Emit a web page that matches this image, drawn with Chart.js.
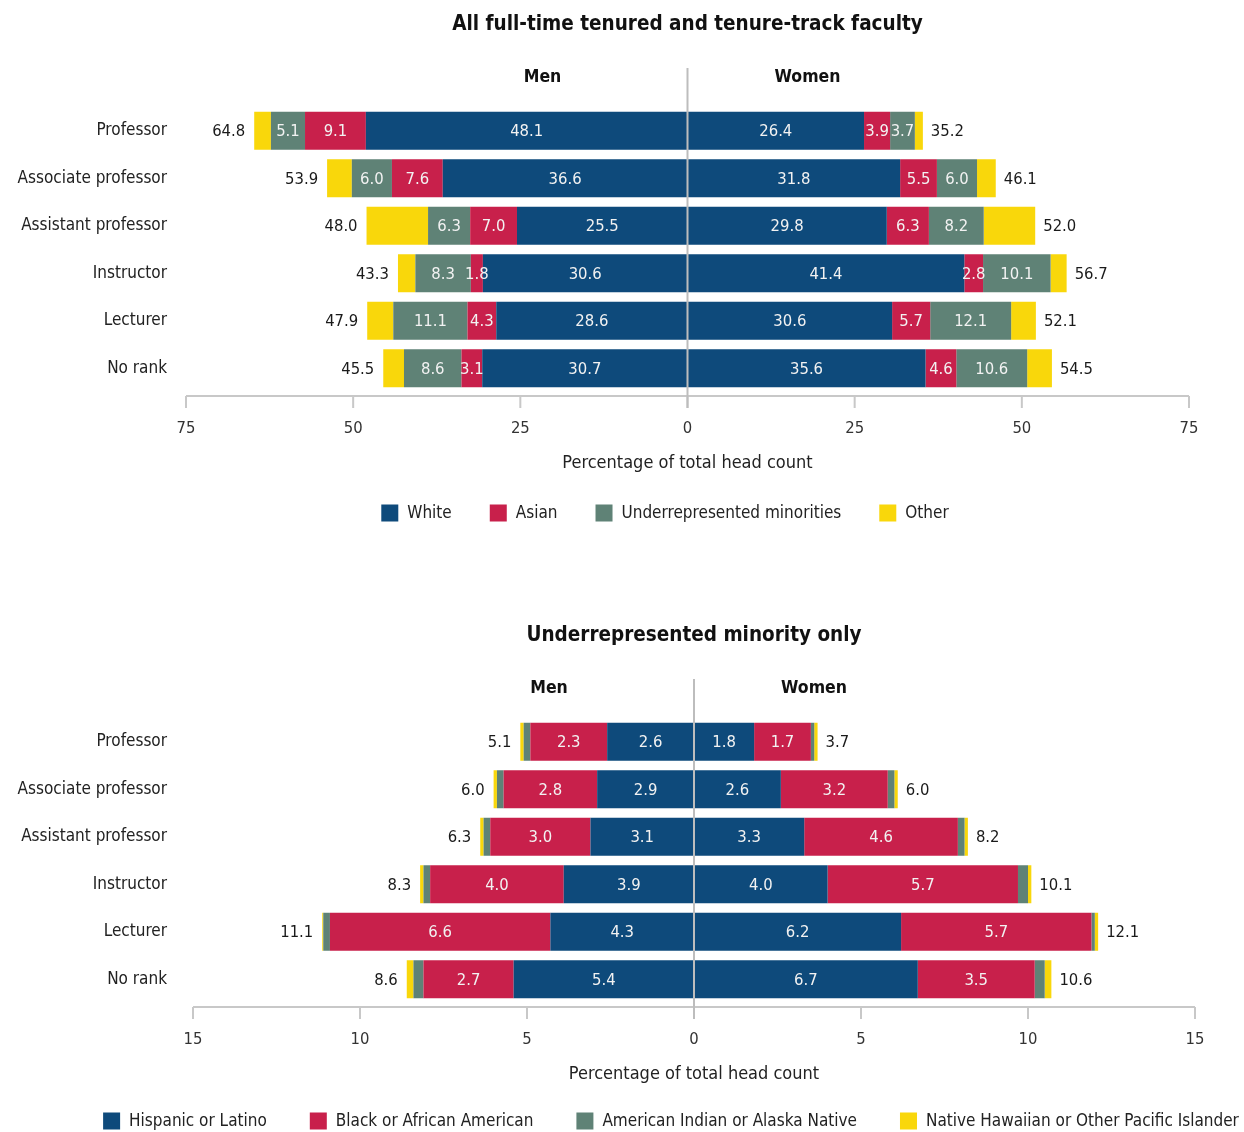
<!DOCTYPE html>
<html>
<head>
<meta charset="utf-8">
<script src="https://cdn.jsdelivr.net/npm/chart.js@4.4.1/dist/chart.umd.min.js"></script>
<style>
  body { margin: 0; background: #fff; }
  .wrap { position: absolute; left: 0; width: 1244px; }
  #wrapTop { top: 0; height: 560px; }
  #wrapBottom { top: 611px; height: 521px; }
</style>
</head>
<body>
<div class="wrap" id="wrapTop"><canvas id="facultyChart"></canvas></div>
<div class="wrap" id="wrapBottom"><canvas id="urmChart"></canvas></div>
<script>
const FONT = '"Liberation Sans Narrow", "DejaVu Sans Condensed", "Roboto Condensed", sans-serif';

const ranks = ["Professor", "Associate professor", "Assistant professor", "Instructor", "Lecturer", "No rank"];

// all full-time tenured / tenure-track faculty (% of head count)
const menWhite = [48.1, 36.6, 25.5, 30.6, 28.6, 30.7];
const menAsian = [9.1, 7.6, 7.0, 1.8, 4.3, 3.1];
const menURM = [5.1, 6.0, 6.3, 8.3, 11.1, 8.6];
const menOther = [2.5, 3.7, 9.2, 2.6, 3.9, 3.1];
const menTotal = [64.8, 53.9, 48.0, 43.3, 47.9, 45.5];

const womenWhite = [26.4, 31.8, 29.8, 41.4, 30.6, 35.6];
const womenAsian = [3.9, 5.5, 6.3, 2.8, 5.7, 4.6];
const womenURM = [3.7, 6.0, 8.2, 10.1, 12.1, 10.6];
const womenOther = [1.2, 2.8, 7.7, 2.4, 3.7, 3.7];
const womenTotal = [35.2, 46.1, 52.0, 56.7, 52.1, 54.5];

// underrepresented minority only
const menHispanic = [2.6, 2.9, 3.1, 3.9, 4.3, 5.4];
const menBlack = [2.3, 2.8, 3.0, 4.0, 6.6, 2.7];
const menNative = [0.2, 0.2, 0.2, 0.2, 0.2, 0.3];
const menPacific = [0.1, 0.1, 0.1, 0.1, 0.03, 0.2];
const menUrmTotal = [5.1, 6.0, 6.3, 8.3, 11.1, 8.6];

const womenHispanic = [1.8, 2.6, 3.3, 4.0, 6.2, 6.7];
const womenBlack = [1.7, 3.2, 4.6, 5.7, 5.7, 3.5];
const womenNative = [0.1, 0.2, 0.2, 0.3, 0.1, 0.3];
const womenPacific = [0.1, 0.1, 0.1, 0.1, 0.1, 0.2];
const womenUrmTotal = [3.7, 6.0, 8.2, 10.1, 12.1, 10.6];

const topTicks = [-75, -50, -25, 0, 25, 50, 75];
const bottomTicks = [-15, -10, -5, 0, 5, 10, 15];

const BLUE = "#0e4a7b";
const RED = "#c8204b";
const GREEN = "#5f8276";
const YELLOW = "#f9d70b";

const neg = (arr) => arr.map((v) => -v);

function series(label, values, color, extra) {
  return Object.assign(
    {
      label: label,
      data: values,
      backgroundColor: color,
      borderWidth: 0,
      stack: "all",
      barPercentage: 0.8,
      categoryPercentage: 1.0,
    },
    extra
  );
}

/* value labels inside bars + totals at bar ends */
const barText = {
  id: "barText",
  afterDatasetsDraw(chart) {
    const ctx = chart.ctx;
    ctx.save();
    ctx.textBaseline = "middle";
    ctx.font = `16.5px ${FONT}`;
    chart.data.datasets.forEach((ds, i) => {
      const meta = chart.getDatasetMeta(i);
      meta.data.forEach((bar, j) => {
        if (ds.showValue) {
          ctx.fillStyle = "#f2f2f2";
          ctx.textAlign = "center";
          ctx.fillText(Math.abs(ds.data[j]).toFixed(1), (bar.x + bar.base) / 2, bar.y + 1);
        }
        if (ds.totals) {
          ctx.fillStyle = "#1a1a1a";
          if (ds.side < 0) {
            ctx.textAlign = "right";
            ctx.fillText(ds.totals[j].toFixed(1), bar.x - 9, bar.y + 1);
          } else {
            ctx.textAlign = "left";
            ctx.fillText(ds.totals[j].toFixed(1), bar.x + 8, bar.y + 1);
          }
        }
      });
    });
    ctx.restore();
  },
};

/* titles, centre line, axis line and the legend */
const frame = {
  id: "frame",
  afterDatasetsDraw(chart, args, opts) {
    const { ctx, chartArea } = chart;
    const x = chart.scales.x;
    const zero = x.getPixelForValue(0);
    const axisY = chartArea.bottom + 4;
    ctx.save();

    // axis + tick marks
    ctx.strokeStyle = "#c8c8c8";
    ctx.lineWidth = 2;
    ctx.beginPath();
    ctx.moveTo(chartArea.left, axisY);
    ctx.lineTo(chartArea.right, axisY);
    x.ticks.forEach((t) => {
      const px = x.getPixelForValue(t.value);
      ctx.moveTo(px, axisY);
      ctx.lineTo(px, axisY + 12);
    });
    ctx.stroke();

    // centre line
    ctx.strokeStyle = "#bdbdbd";
    ctx.beginPath();
    ctx.moveTo(zero, 68);
    ctx.lineTo(zero, axisY + 12);
    ctx.stroke();

    // titles
    ctx.fillStyle = "#111";
    ctx.textAlign = "center";
    ctx.textBaseline = "middle";
    ctx.font = `bold 20.5px ${FONT}`;
    ctx.fillText(opts.title, zero, 25);
    ctx.font = `bold 17.5px ${FONT}`;
    ctx.fillText("Men", zero - 145, 77);
    ctx.fillText("Women", zero + 120, 77);

    // legend
    const items = chart.data.datasets.filter((ds) => ds.inLegend);
    ctx.font = `17px ${FONT}`;
    const box = 17;
    const widths = items.map((ds) => box + 9 + ctx.measureText(ds.label).width);
    const total = widths.reduce((a, b) => a + b, 0) + opts.legendGap * (items.length - 1);
    let lx = opts.legendX - total / 2;
    ctx.textAlign = "left";
    items.forEach((ds, i) => {
      ctx.fillStyle = ds.backgroundColor;
      ctx.fillRect(lx, opts.legendY - box / 2, box, box);
      ctx.fillStyle = "#222";
      ctx.fillText(ds.label, lx + box + 9, opts.legendY + 1);
      lx += widths[i] + opts.legendGap;
    });

    ctx.restore();
  },
};

function makeChart(canvasId, datasets, ticks, frameOpts, axisWidth, labelPad, padRight, padBottom) {
  return new Chart(document.getElementById(canvasId), {
    type: "bar",
    data: { labels: ranks, datasets: datasets },
    options: {
      indexAxis: "y",
      responsive: true,
      maintainAspectRatio: false,
      animation: false,
      layout: { padding: { top: 107, right: padRight, bottom: padBottom, left: 0 } },
      plugins: {
        legend: { display: false },
        tooltip: { enabled: false },
        frame: frameOpts,
      },
      scales: {
        x: {
          stacked: true,
          min: ticks[0],
          max: ticks[ticks.length - 1],
          afterBuildTicks: (scale) => {
            scale.ticks = ticks.map((v) => ({ value: v }));
          },
          afterFit: (scale) => {
            scale.height = 83;
          },
          grid: { display: false, drawTicks: false },
          border: { display: false },
          ticks: {
            padding: 27,
            maxRotation: 0,
            color: "#333",
            font: { family: FONT, size: 16.5 },
            callback: (v) => Math.abs(v),
          },
          title: {
            display: true,
            text: "Percentage of total head count",
            color: "#222",
            font: { family: FONT, size: 18 },
            padding: { top: 12, bottom: 1 },
          },
        },
        y: {
          stacked: true,
          afterFit: (scale) => {
            scale.width = axisWidth;
          },
          grid: { display: false, drawTicks: false },
          border: { display: false },
          ticks: {
            padding: labelPad,
            color: "#222",
            font: { family: FONT, size: 17 },
          },
        },
      },
    },
    plugins: [barText, frame],
  });
}

// top chart
makeChart(
  "facultyChart",
  [
    series("White", neg(menWhite), BLUE, { showValue: true, inLegend: true }),
    series("Asian", neg(menAsian), RED, { showValue: true, inLegend: true }),
    series("Underrepresented minorities", neg(menURM), GREEN, { showValue: true, inLegend: true }),
    series("Other", neg(menOther), YELLOW, { inLegend: true, totals: menTotal, side: -1 }),
    series("White", womenWhite, BLUE, { showValue: true }),
    series("Asian", womenAsian, RED, { showValue: true }),
    series("Underrepresented minorities", womenURM, GREEN, { showValue: true }),
    series("Other", womenOther, YELLOW, { totals: womenTotal, side: 1 }),
  ],
  topTicks,
  { title: "All full-time tenured and tenure-track faculty", legendX: 665, legendY: 513, legendGap: 38 },
  186,
  19,
  55,
  85
);

// bottom chart
makeChart(
  "urmChart",
  [
    series("Hispanic or Latino", neg(menHispanic), BLUE, { showValue: true, inLegend: true }),
    series("Black or African American", neg(menBlack), RED, { showValue: true, inLegend: true }),
    series("American Indian or Alaska Native", neg(menNative), GREEN, { inLegend: true }),
    series("Native Hawaiian or Other Pacific Islander", neg(menPacific), YELLOW, { inLegend: true, totals: menUrmTotal, side: -1 }),
    series("Hispanic or Latino", womenHispanic, BLUE, { showValue: true }),
    series("Black or African American", womenBlack, RED, { showValue: true }),
    series("American Indian or Alaska Native", womenNative, GREEN, {}),
    series("Native Hawaiian or Other Pacific Islander", womenPacific, YELLOW, { totals: womenUrmTotal, side: 1 }),
  ],
  bottomTicks,
  { title: "Underrepresented minority only", legendX: 671, legendY: 510, legendGap: 43 },
  193,
  26,
  49,
  46
);
</script>
</body>
</html>
